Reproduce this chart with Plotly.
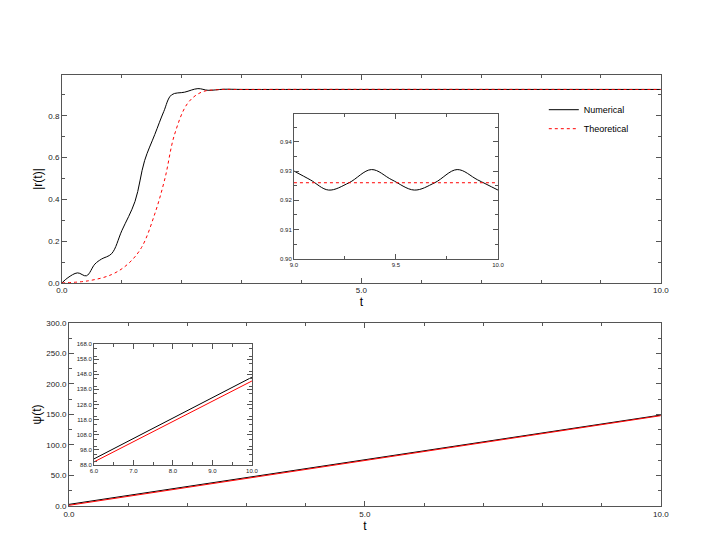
import plotly.graph_objects as go

# |r(t)| main panel
t_num = [0, 0.1, 0.26, 0.41, 0.55, 0.66, 0.83, 1.0, 1.22, 1.38, 1.55, 1.7, 1.83, 2.05, 2.27, 2.44, 2.7, 3.0, 4.0, 5.0, 6.0, 7.0, 8.0, 9.0, 10.0]
r_num = [0, 0.025, 0.048, 0.034, 0.09, 0.114, 0.14, 0.25, 0.39, 0.585, 0.71, 0.82, 0.90, 0.913, 0.93, 0.922, 0.927, 0.926, 0.926, 0.926, 0.926, 0.926, 0.926, 0.926, 0.926]
t_th = [0, 0.44, 0.83, 1.1, 1.33, 1.55, 1.72, 1.88, 2.1, 2.33, 2.6, 3.0, 10.0]
r_th = [0, 0.01, 0.04, 0.09, 0.17, 0.33, 0.5, 0.71, 0.86, 0.913, 0.925, 0.926, 0.926]

# |r(t)| inset
t_in = [9.0, 9.08, 9.17, 9.27, 9.38, 9.48, 9.59, 9.69, 9.8, 9.9, 10.0]
r_in = [0.930, 0.927, 0.9235, 0.926, 0.9305, 0.927, 0.9235, 0.926, 0.9305, 0.927, 0.9235]
t_th_in = [9.0, 10.0]
r_th_in = [0.926, 0.926]

# psi(t)
t_psi = [0, 10]
psi_num = [2.5, 149]
psi_th = [1.0, 148]
t_psi_in = [6, 10]
psi_num_in = [92, 146]
psi_th_in = [90, 143.5]

fig = go.Figure()
blk = dict(color='black', width=1)
blk_s = dict(color='black', width=1, shape='spline')
red = dict(color='red', width=1, dash='dot')
red_sp = dict(color='red', width=1, dash='dot', shape='spline')
red_s = dict(color='red', width=1)


def line(x, y, ln, xa, ya, name=None):
    fig.add_trace(go.Scatter(x=x, y=y, mode='lines', line=ln, name=name,
                             showlegend=name is not None, xaxis=xa, yaxis=ya))


line(t_num, r_num, blk_s, 'x', 'y', 'Numerical')
line(t_th, r_th, red_sp, 'x', 'y', 'Theoretical')
line(t_in, r_in, blk_s, 'x2', 'y2')
line(t_th_in, r_th_in, red, 'x2', 'y2')
line(t_psi, psi_num, blk, 'x3', 'y3')
line(t_psi, psi_th, red_s, 'x3', 'y3')
line(t_psi_in, psi_num_in, blk, 'x4', 'y4')
line(t_psi_in, psi_th_in, red_s, 'x4', 'y4')


def ax(dom, rng, dt, minor, fmt, size, anchor, title=None, t0=None):
    d = dict(domain=dom, range=rng, dtick=dt, tick0=rng[0] if t0 is None else t0, tickformat=fmt, anchor=anchor,
             showgrid=False, zeroline=False, showline=True, linecolor='#555', linewidth=1, mirror='allticks',
             ticks='inside', ticklen=5, tickcolor='#555', tickfont=dict(size=size, color='#222'),
             minor=dict(dtick=minor, ticks='inside', ticklen=3, tickcolor='#555'))
    if title:
        d['title'] = dict(text=title, font=dict(size=12, color='black'), standoff=2)
    return d


dx = -0.01
dy = 0.013
fig.update_layout(
    width=705, height=545, margin=dict(l=0, r=0, t=0, b=0, autoexpand=False),
    plot_bgcolor='white', paper_bgcolor='white',
    font=dict(family='Liberation Sans', color='black'),
    xaxis=ax([0.0865 + dx, 0.936 + dx], [0, 10], 5, 1, '.1f', 8, 'y', 't'),
    yaxis=ax([0.4826 + dy, 0.864 + dy], [0, 0.995], 0.2, 0.1, '.1f', 8, 'x', '|r(t)|', 0),
    xaxis2=ax([0.4156 + dx, 0.705 + dx], [9, 10], 0.5, 0.25, '.1f', 6, 'y2'),
    yaxis2=ax([0.5266 + dy, 0.7927 + dy], [0.90, 0.9495], 0.01, 0.005, '.2f', 6, 'x2', None, 0.90),
    xaxis3=ax([0.0965 + dx, 0.936 + dx], [0, 10], 5, 1, '.1f', 8, 'y3', 't'),
    yaxis3=ax([0.0734 + dy, 0.409 + dy], [0, 300], 50, 25, '.1f', 8, 'x3', 'ψ(t)'),
    xaxis4=ax([0.132 + dx, 0.356 + dx], [6, 10], 1, 0.5, '.1f', 6, 'y4'),
    yaxis4=ax([0.1486 + dy, 0.3706 + dy], [88, 168], 10, 5, '.1f', 6, 'x4'),
    legend=dict(x=0.76, y=0.84, xanchor='left', yanchor='top', bgcolor='rgba(0,0,0,0)', font=dict(size=9)),
)
fig.write_html("out.html")
